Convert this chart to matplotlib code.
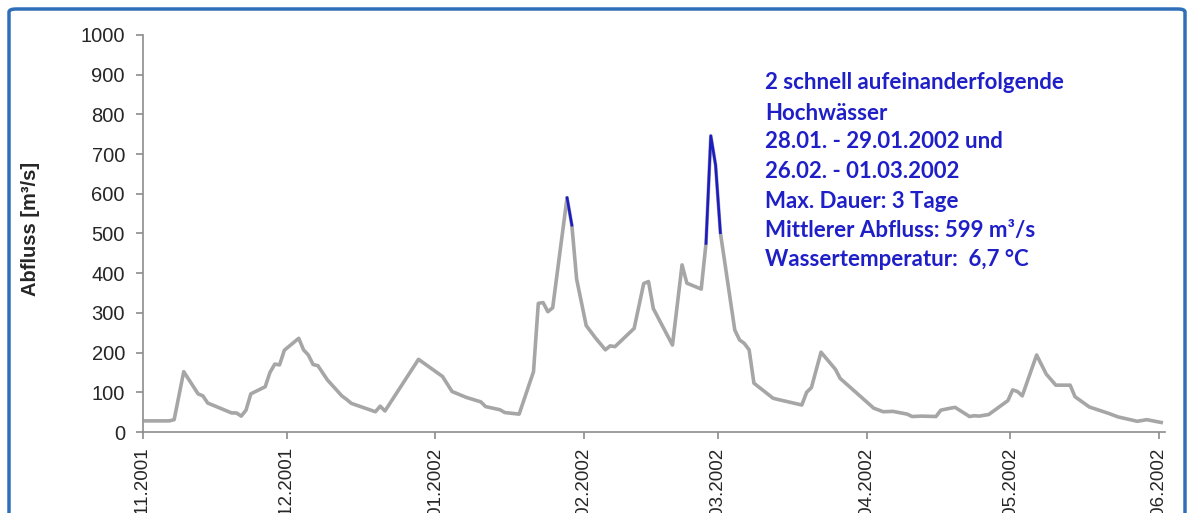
import numpy as np
import matplotlib
matplotlib.use("Agg")
import matplotlib.pyplot as plt
import matplotlib.dates as mdates
from matplotlib.patches import FancyBboxPatch

# Tagesabfluss, Tage ab 01.11.2001 (Knickpunkte)
start = np.datetime64('2001-11-01')
day = [0, 5, 6, 8, 11, 12, 13, 15, 18, 19, 20, 21, 22, 25, 26, 27, 28, 29,
       32, 33, 34, 35, 36, 38, 41, 42, 43, 48, 49, 50, 57, 62, 64, 67, 70,
       71, 74, 75, 78, 81, 82, 83, 84, 85, 88, 89, 90, 92, 94, 96, 97, 98,
       102, 104, 105, 106, 110, 112, 113, 116, 117, 118, 119, 120, 123, 124,
       125, 126, 127, 131, 132, 137, 138, 139, 141, 144, 145, 152, 154, 156,
       159, 160, 162, 165, 166, 168, 169, 172, 173, 174, 176, 180, 181, 182,
       183, 186, 188, 190, 193, 194, 197, 201, 203, 207, 209, 212]
abfluss = [28, 28, 31, 152, 96, 91, 73, 63, 48, 48, 40, 55, 96, 114, 150,
           171, 169, 206, 236, 207, 194, 170, 167, 131, 91, 82, 72, 51, 65,
           53, 183, 140, 102, 87, 76, 64, 56, 49, 45, 152, 324, 326, 303,
           313, 590, 521, 385, 268, 236, 207, 217, 215, 261, 374, 379, 311,
           219, 421, 375, 360, 475, 746, 672, 502, 257, 232, 223, 207, 123,
           85, 82, 68, 100, 112, 201, 158, 135, 60, 51, 52, 45, 39, 40, 39,
           55, 60, 62, 39, 41, 40, 44, 79, 106, 102, 91, 194, 146, 118, 118,
           89, 63, 47, 38, 27, 31, 24]

# Hochwasser-Zeitraeume (blau markiert)
hw1 = ('2002-01-28', '2002-01-29')
hw2 = ('2002-02-26', '2002-03-01')

info = ["2 schnell aufeinanderfolgende",
        "Hochwässer",
        "28.01. - 29.01.2002 und",
        "26.02. - 01.03.2002",
        "Max. Dauer: 3 Tage",
        "Mittlerer Abfluss: 599 m³/s",
        "Wassertemperatur:  6,7 °C"]

dates = start + np.array(day).astype('timedelta64[D]')
q = np.array(abfluss)
xpos = dates.astype('datetime64[h]') + np.timedelta64(12, 'h')

plt.rcParams['font.family'] = ['Liberation Sans', 'DejaVu Sans']

fig = plt.figure(figsize=(11.92, 5.13), dpi=100)
ax = fig.add_axes([143 / 1192, 81 / 513, 1022 / 1192, 397 / 513])

ax.plot(xpos, q, color='#a6a6a6', lw=2.6, solid_joinstyle='round', zorder=2)
for a, b in (hw1, hw2):
    m = (dates >= np.datetime64(a)) & (dates <= np.datetime64(b))
    ax.plot(xpos[m], q[m], color='#1c1cc4', lw=1.9, zorder=3)

ax.set_ylim(0, 1000)
ax.set_yticks(range(0, 1001, 100))
ax.set_xlim(np.datetime64('2001-11-01'),
            np.datetime64('2001-11-01') + np.timedelta64(5119, 'h'))
ax.xaxis.set_major_locator(mdates.MonthLocator())
ax.xaxis.set_major_formatter(mdates.DateFormatter('%d.%m.%Y'))
for lab in ax.get_xticklabels():
    lab.set_rotation(90)

for s in ('top', 'right'):
    ax.spines[s].set_visible(False)
for s in ('left', 'bottom'):
    ax.spines[s].set_color('#8c8c8c')
    ax.spines[s].set_linewidth(1.2)
ax.tick_params(colors='#8c8c8c', length=5, width=1.2, labelcolor='#262626',
               labelsize=14.5)
ax.tick_params(axis='y', pad=8)
ax.tick_params(axis='x', pad=6, labelsize=13.5)

fig.text(31 / 1192, 1 - 229 / 513, 'Abfluss [m³/s]', rotation=90,
         fontsize=14.5, fontweight='bold', color='#262626',
         ha='center', va='center')

ys = [83, 113, 142, 172, 202, 231, 260]
for t, y in zip(info, ys):
    fig.text(765 / 1192, 1 - y / 513, t, color='#1f1fc8', fontsize=16,
             fontweight='bold', family=['Lato', 'DejaVu Sans'], va='center',
             ha='left')

frame = FancyBboxPatch((9 / 1192, -0.2), (1185 - 9) / 1192, 1.2 - 9 / 513,
                       boxstyle='round,pad=0,rounding_size=0.006',
                       transform=fig.transFigure, fill=False,
                       edgecolor='#2e6fb8', lw=2.5, zorder=10)
fig.patches.append(frame)

fig.savefig('out.png', dpi=100)
